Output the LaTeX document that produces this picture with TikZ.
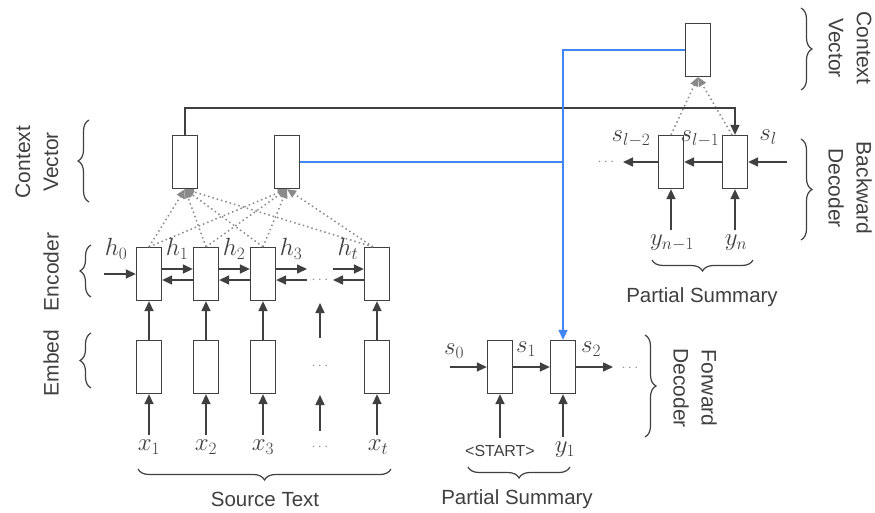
\documentclass[tikz,border=0pt]{standalone}
\usepackage{fontspec}
\setmainfont{Liberation Sans}
\usetikzlibrary{arrows.meta,decorations.pathreplacing,calc}
\definecolor{ink}{HTML}{404040}
\definecolor{gblue}{HTML}{4285F4}
\definecolor{dotg}{HTML}{8A8A8A}
\begin{document}
\begin{tikzpicture}[x=1pt,y=-1pt,
 cell/.style={draw=ink,line width=1.3pt,minimum width=25pt,minimum height=53pt,inner sep=0pt,fill=white},
 arr/.style={draw=ink,line width=1.5pt,-{Triangle[length=10pt,width=9pt]}},
 att/.style={draw=dotg,line width=1.5pt,dash pattern={on 1.5pt off 3pt},-{Triangle[length=9pt,width=8pt]}},
 lbl/.style={text=ink,font=\fontsize{20.5}{24}\selectfont},
 mlab/.style={text=ink,font=\fontsize{24}{28}\selectfont,inner sep=1pt},
 side/.style={text=ink,font=\fontsize{21}{28}\selectfont,align=center},
 brc/.style={draw=ink,line width=1.2pt,decorate,decoration={brace,amplitude=11pt}},
 dots/.style={text=dotg,font=\fontsize{14}{16}\selectfont,inner sep=0pt}
]
\useasboundingbox[fill=white] (0,0) rectangle (875,512);

% ---------- attention (dotted) ----------
\node[cell] (c1) at (185,162) {};
\node[cell] (c2) at (287,162) {};
\node[cell] (e1) at (149,274) {};
\node[cell] (e2) at (206,274) {};
\node[cell] (e3) at (263,274) {};
\node[cell] (et) at (377,274) {};
\foreach \e/\s in {e1/0,e2/0,e3/0,et/-4}{
  \draw[att] ([xshift=\s pt]\e.north) -- (c1.south);
  \draw[att] ([xshift=\s pt]\e.north) -- (c2.south);
}
\node[cell] (c1b) at (185,162) {};
\node[cell] (c2b) at (287,162) {};

% ---------- embed ----------
\node[cell] (m1) at (149,367) {};
\node[cell] (m2) at (206,367) {};
\node[cell] (m3) at (263,367) {};
\node[cell] (mt) at (377,367) {};
\node[dots] (md) at (320,366) {$\cdots$};

\node[mlab] (x1) at (149,447) {$x_1$};
\node[mlab] (x2) at (206,447) {$x_2$};
\node[mlab] (x3) at (263,447) {$x_3$};
\node[mlab] (xt) at (378,447) {$x_t$};
\node[dots] (xd) at (320,447) {$\cdots$};

\foreach \a/\b in {x1/m1,x2/m2,x3/m3,xt/mt}{
  \draw[arr,shorten <=4pt] (\a.north -| \b.south) -- (\b.south);
}
\coordinate (xdu) at (320,431);
\coordinate (mdd) at (320,395);
\draw[arr] (xdu) -- (mdd);
\foreach \a/\b in {m1/e1,m2/e2,m3/e3,mt/et}{
  \draw[arr] (\a) -- (\b);
}
\coordinate (mdu) at (320,338);
\coordinate (edd) at (320,303);
\draw[arr] (mdu) -- (edd);

% ---------- encoder recurrences ----------
\coordinate (h0in) at (104,274);
\draw[arr] (h0in) -- (e1);
\draw[arr] ([yshift=5pt]e1.east) -- ([yshift=5pt]e2.west);
\draw[arr] ([yshift=-6pt]e2.west) -- ([yshift=-6pt]e1.east);
\draw[arr] ([yshift=5pt]e2.east) -- ([yshift=5pt]e3.west);
\draw[arr] ([yshift=-6pt]e3.west) -- ([yshift=-6pt]e2.east);
\coordinate (f3) at (307,269);
\coordinate (b3) at (307,280);
\draw[arr] ([yshift=5pt]e3.east) -- (f3);
\draw[arr] (b3) -- ([yshift=-6pt]e3.east);
\node[dots] (ed) at (320,280) {$\cdots$};
\coordinate (ft) at (333,269);
\coordinate (bt) at (333,280);
\draw[arr] (ft) -- ([yshift=5pt]et.west);
\draw[arr] ([yshift=-6pt]et.west) -- (bt);

\node[mlab] (h0) at (116,249) {$h_0$};
\node[mlab] (h1) at (177,249) {$h_1$};
\node[mlab] (h2) at (234,249) {$h_2$};
\node[mlab] (h3) at (291,249) {$h_3$};
\node[mlab] (ht) at (348,249) {$h_t$};

% ---------- backward decoder ----------
\node[cell] (ct) at (698,50) {};
\node[cell] (b1) at (671,162) {};
\node[cell] (b2) at (735,162) {};
\draw[att] (b1.north) -- (ct.south);
\draw[att] ([xshift=-3pt]b2.north) -- (ct.south);
\coordinate (bin) at (787,162);
\coordinate (bout) at (623,162);
\draw[arr] (bin) -- (b2);
\draw[arr] (b2) -- (b1);
\draw[arr] (b1) -- (bout);
\node[dots] (bd) at (606,162) {$\cdots$};
\node[mlab] (sl2) at (631,139) {$s_{l-2}$};
\node[mlab] (sl1) at (700,139) {$s_{l-1}$};
\node[mlab] (sl) at (768,137) {$s_l$};
\node[mlab] (yn1) at (672,243) {$y_{n-1}$};
\node[mlab] (yn) at (736,243) {$y_n$};
\draw[arr,shorten <=4pt] (yn1.north -| b1.south) -- (b1.south);
\draw[arr,shorten <=4pt] (yn.north -| b2.south) -- (b2.south);

% ---------- forward decoder ----------
\node[cell] (f1) at (500,367) {};
\node[cell] (f2) at (563,367) {};
\coordinate (s0in) at (450,367);
\coordinate (fout) at (613,367);
\draw[arr] (s0in) -- (f1);
\draw[arr] (f1) -- (f2);
\draw[arr] (f2) -- (fout);
\node[dots] (fd) at (630,368) {$\cdots$};
\node[mlab] (s0) at (454,351) {$s_0$};
\node[mlab] (s1) at (526,349) {$s_1$};
\node[mlab] (s2) at (591,349) {$s_2$};
\node[text=ink,font=\fontsize{16}{18}\selectfont,inner sep=1pt] (st) at (500,451) {<START>};
\node[mlab] (y1) at (565,450) {$y_1$};
\draw[arr,shorten <=6pt] (st.north -| f1.south) -- (f1.south);
\draw[arr,shorten <=4pt] (y1.north -| f2.south) -- (f2.south);

% ---------- long connectors ----------
\draw[arr] (c1b.north) -- ++(0,-27) -| (b2.north);
\draw[arr,draw=gblue] (ct.west) -| (f2.north);
\draw[gblue,line width=1.5pt] (c2b.east) -- (c2b.east -| f2.north);

% ---------- braces and captions ----------
\draw[brc] (391,469) -- (138,469);
\node[lbl] (srct) at (265,499) {Source Text};
\draw[brc] (570,467) -- (468,467);
\node[lbl] (ps1) at (517,499) {Partial Summary};
\draw[brc] (753,260) -- (652,260);
\node[lbl] (ps2) at (702,297) {Partial Summary};

\draw[brc] (89,202) -- (89,120);
\node[side,rotate=90] (lcv) at (37,162) {Context\\Vector};
\draw[brc] (91,297) -- (91,245);
\node[side,rotate=90] (lenc) at (51,272) {Encoder};
\draw[brc] (91,388) -- (91,333);
\node[side,rotate=90] (lemb) at (51,363) {Embed};

\draw[brc] (801,8) -- (801,90);
\node[side,rotate=-90] (rcv) at (850,48) {Context\\Vector};
\draw[brc] (801,139) -- (801,240);
\node[side,rotate=-90] (rbd) at (850,188) {Backward\\Decoder};
\draw[brc] (645,335) -- (645,437);
\node[side,rotate=-90] (rfd) at (695,388) {Forward\\Decoder};
\end{tikzpicture}
\end{document}
